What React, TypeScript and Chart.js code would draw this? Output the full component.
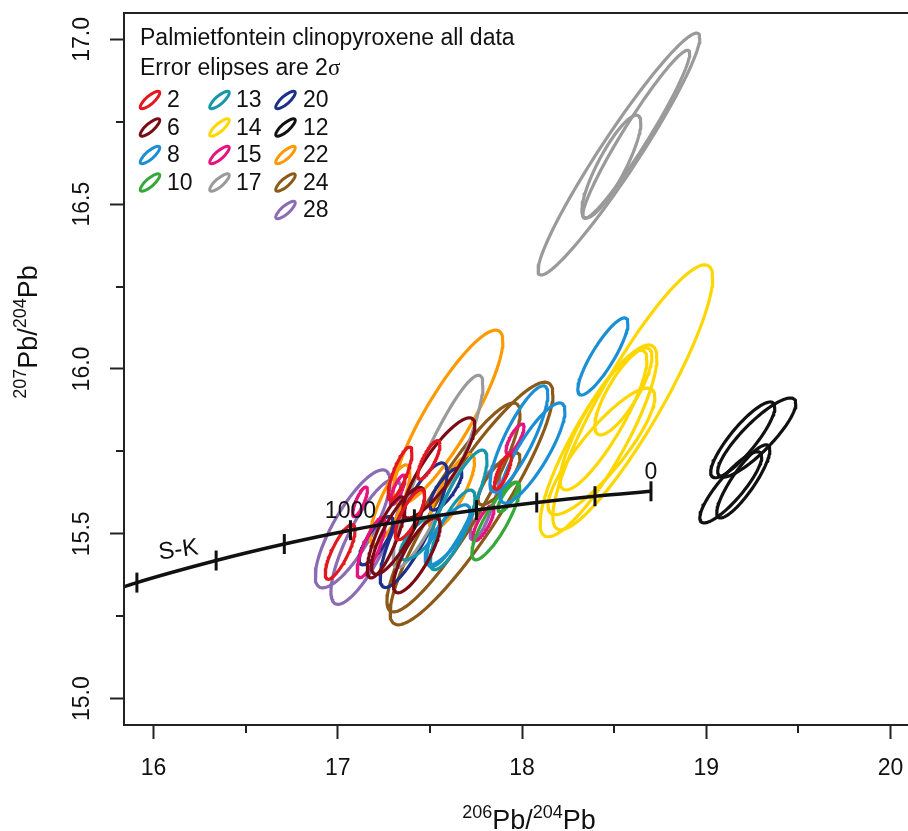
import { useEffect, useRef } from "react";
import { Chart, registerables } from "chart.js";

Chart.register(...registerables);

const FONT = "'Liberation Sans', Arial, Helvetica, sans-serif";
const INK = "#111111";

// Samples, their colours and the legend arrangement
const sampleNames = ["2", "6", "8", "10", "13", "14", "15", "17", "20", "12", "22", "24", "28"];
const sampleColors = [
  "#e2171f", "#7a0b14", "#1b8fd6", "#36a83a", "#1597a9", "#ffd700", "#e5147f",
  "#9a9a9a", "#1c2f8a", "#111111", "#ff9900", "#8b5a1a", "#8b6bb2",
];
const legendColumns = [
  ["2", "6", "8", "10"],
  ["13", "14", "15", "17"],
  ["20", "12", "22", "24", "28"],
];

// Individual analyses: 206Pb/204Pb, 207Pb/204Pb, their 2σ errors and error correlation
const spotSample = [
  "2", "2", "2", "2", "2",
  "6", "6", "6", "6",
  "8", "8", "8", "8",
  "10", "10",
  "13", "13", "13",
  "14", "14", "14", "14", "14",
  "15", "15", "15", "15", "15",
  "17", "17", "17", "17",
  "20", "20", "20",
  "12", "12", "12", "12",
  "22", "22", "22",
  "24", "24", "24",
  "28", "28", "28",
];
const pb206 = [
  17.338, 17.495, 17.013, 17.896, 17.392,
  17.549, 17.263, 17.429, 17.327,
  18.439, 17.983, 18.057, 17.596,
  17.858, 17.924,
  17.647, 17.623, 17.446,
  18.601, 18.415, 18.442, 18.431, 18.55,
  17.962, 17.791, 17.325, 17.181, 17.121,
  18.526, 18.62, 18.485, 17.544,
  17.412, 17.208, 17.587,
  19.274, 19.198, 19.133, 19.201,
  17.598, 17.284, 17.62,
  17.726, 17.628, 17.875,
  17.081, 17.153, 17.799,
];
const err206 = [
  0.065, 0.06, 0.081, 0.046, 0.08,
  0.195, 0.103, 0.127, 0.144,
  0.136, 0.157, 0.176, 0.122,
  0.13, 0.054,
  0.163, 0.122, 0.108,
  0.434, 0.317, 0.236, 0.29, 0.155,
  0.049, 0.057, 0.04, 0.076, 0.04,
  0.439, 0.29, 0.16, 0.244,
  0.182, 0.092, 0.087,
  0.212, 0.174, 0.168, 0.144,
  0.298, 0.108, 0.122,
  0.442, 0.361, 0.114,
  0.203, 0.19, 0.081,
];
const pb207 = [
  15.683, 15.724, 15.445, 15.688, 15.558,
  15.7, 15.489, 15.435, 15.509,
  16.038, 15.788, 15.745, 15.497,
  15.539, 15.611,
  15.577, 15.512, 15.489,
  15.914, 15.782, 15.845, 15.75, 15.932,
  15.788, 15.532, 15.633, 15.458, 15.597,
  16.652, 16.712, 16.614, 15.689,
  15.526, 15.479, 15.636,
  15.792, 15.785, 15.641, 15.659,
  15.853, 15.588, 15.627,
  15.592, 15.58, 15.667,
  15.515, 15.476, 15.595,
];
const err207 = [
  0.08, 0.059, 0.083, 0.053, 0.076,
  0.152, 0.123, 0.114, 0.132,
  0.117, 0.161, 0.152, 0.091,
  0.118, 0.044,
  0.177, 0.121, 0.068,
  0.402, 0.291, 0.212, 0.192, 0.132,
  0.045, 0.053, 0.045, 0.091, 0.045,
  0.367, 0.255, 0.156, 0.292,
  0.189, 0.073, 0.064,
  0.12, 0.115, 0.108, 0.111,
  0.265, 0.121, 0.114,
  0.368, 0.317, 0.079,
  0.179, 0.19, 0.114,
];
const errCorr = [
  0.8, 0.8, 0.8, 0.8, 0.78,
  0.85, 0.8, 0.8, 0.82,
  0.86, 0.84, 0.84, 0.78,
  0.84, 0.8,
  0.84, 0.8, 0.75,
  0.9, 0.86, 0.86, 0.86, 0.8,
  0.8, 0.8, 0.8, 0.8, 0.8,
  0.96, 0.96, 0.85, 0.9,
  0.84, 0.78, 0.78,
  0.86, 0.86, 0.86, 0.86,
  0.87, 0.8, 0.8,
  0.9, 0.9, 0.8,
  0.8, 0.8, 0.8,
];

// Stacey–Kramers lead growth curve, marked every 200 Ma
const skAge = [0, 200, 400, 600, 800, 1000, 1200, 1400, 1600, 1800];
const skPb206 = [18.7, 18.396, 18.08, 17.753, 17.416, 17.069, 16.71, 16.34, 15.91, 15.52];
const skPb207 = [15.629, 15.614, 15.595, 15.572, 15.544, 15.511, 15.469, 15.419, 15.352, 15.278];
const skTickAges = [0, 200, 400, 600, 800, 1000, 1200, 1400, 1600];
const skLabelAges = [0, 1000];

// Axis ranges and unlabelled minor ticks
const xRange = [15.84, 20.16];
const yRange = [14.92, 17.08];
const xMinorTicks = [16.5, 17.5, 18.5, 19.5];
const yMinorTicks = [15.25, 15.75, 16.25, 16.75];

function ellipseOutline(x: number, sx: number, y: number, sy: number, r: number, n = 96) {
  const pts: { x: number; y: number }[] = [];
  const s = Math.sqrt(1 - r * r);
  for (let i = 0; i <= n; i++) {
    const t = (2 * Math.PI * i) / n;
    pts.push({ x: x + sx * Math.cos(t), y: y + sy * (r * Math.cos(t) + s * Math.sin(t)) });
  }
  return pts;
}

function colorOf(name: string) {
  return sampleColors[sampleNames.indexOf(name)];
}

function drawRatio(ctx: CanvasRenderingContext2D, top: string, bottom: string, size: number) {
  const main = `${size}px ${FONT}`;
  const sup = `${Math.round(size * 0.66)}px ${FONT}`;
  const pieces: [string, boolean][] = [[top, true], ["Pb/", false], [bottom, true], ["Pb", false]];
  const widths = pieces.map(([t, s]) => {
    ctx.font = s ? sup : main;
    return ctx.measureText(t).width;
  });
  const total = widths.reduce((a, b) => a + b, 0);
  let x = -total / 2;
  pieces.forEach(([t, s], i) => {
    ctx.font = s ? sup : main;
    ctx.fillText(t, x, s ? -size * 0.4 : 0);
    x += widths[i];
  });
}

const decorations = {
  id: "decorations",
  afterDraw(chart: any) {
    const { ctx, chartArea: a } = chart;
    const xs = chart.scales.x;
    const ys = chart.scales.y;
    ctx.save();

    // frame
    ctx.strokeStyle = "#222";
    ctx.lineWidth = 2;
    ctx.strokeRect(a.left, a.top, a.right - a.left, a.bottom - a.top);

    // minor ticks
    ctx.lineWidth = 2;
    ctx.beginPath();
    xMinorTicks.forEach((v) => {
      const px = Math.round(xs.getPixelForValue(v));
      ctx.moveTo(px, a.bottom);
      ctx.lineTo(px, a.bottom + 8);
    });
    yMinorTicks.forEach((v) => {
      const py = Math.round(ys.getPixelForValue(v));
      ctx.moveTo(a.left, py);
      ctx.lineTo(a.left - 8, py);
    });
    ctx.stroke();

    ctx.fillStyle = INK;
    ctx.textBaseline = "alphabetic";

    // growth curve labels
    ctx.font = `23px ${FONT}`;
    ctx.textAlign = "center";
    skLabelAges.forEach((age) => {
      const i = skAge.indexOf(age);
      const px = xs.getPixelForValue(skPb206[i]);
      const py = ys.getPixelForValue(skPb207[i]);
      ctx.fillText(String(age), px, py - 12);
    });
    ctx.save();
    ctx.font = `24px ${FONT}`;
    ctx.translate(xs.getPixelForValue(16.14), ys.getPixelForValue(15.43));
    ctx.rotate(-0.13);
    ctx.fillText("S-K", 0, 0);
    ctx.restore();

    // legend
    ctx.textAlign = "left";
    ctx.font = `23px ${FONT}`;
    ctx.fillText("Palmietfontein clinopyroxene all data", 140, 45);
    const errText = "Error elipses are 2";
    ctx.fillText(errText, 140, 75);
    const w = ctx.measureText(errText).width;
    ctx.font = `23px 'Liberation Serif', 'DejaVu Serif', serif`;
    ctx.fillText("σ", 140 + w, 75);

    ctx.font = `23px ${FONT}`;
    const iconX = [150, 219.5, 285.5];
    const labelX = [167, 236, 303];
    legendColumns.forEach((col, c) => {
      col.forEach((name, r) => {
        const base = 107 + 27.5 * r;
        ctx.strokeStyle = colorOf(name);
        ctx.lineWidth = 3;
        ctx.beginPath();
        ctx.ellipse(iconX[c], base - 7, 12.5, 4, -0.72, 0, 2 * Math.PI);
        ctx.stroke();
        ctx.fillStyle = INK;
        ctx.fillText(name, labelX[c], base);
      });
    });

    // axis titles
    ctx.fillStyle = INK;
    ctx.save();
    ctx.translate(529, 829);
    drawRatio(ctx, "206", "204", 27);
    ctx.restore();
    ctx.save();
    ctx.translate(37, 332);
    ctx.rotate(-Math.PI / 2);
    drawRatio(ctx, "207", "204", 27);
    ctx.restore();

    ctx.restore();
  },
};

export default function App() {
  const canvasRef = useRef<HTMLCanvasElement | null>(null);

  useEffect(() => {
    const canvas = canvasRef.current;
    if (!canvas) return;

    const skCurve = skAge.map((_, i) => ({ x: skPb206[i], y: skPb207[i] }));
    const skTicks = skTickAges.map((age) => {
      const i = skAge.indexOf(age);
      return { x: skPb206[i], y: skPb207[i] };
    });

    const ellipseSets = spotSample.map((name, i) => ({
      label: name,
      data: ellipseOutline(pb206[i], err206[i], pb207[i], err207[i], errCorr[i]),
      showLine: true,
      borderColor: colorOf(name),
      backgroundColor: "transparent",
      borderWidth: 3.2,
      borderJoinStyle: "round" as const,
      pointRadius: 0,
      fill: false,
      tension: 0,
    }));

    const chart = new Chart(canvas, {
      type: "scatter",
      data: {
        datasets: [
          {
            label: "S-K ticks",
            data: skTicks,
            showLine: false,
            pointStyle: "line",
            rotation: 90,
            pointRadius: 10,
            pointBorderWidth: 3,
            borderColor: INK,
            pointBorderColor: INK,
          } as any,
          {
            label: "S-K",
            data: skCurve,
            showLine: true,
            borderColor: INK,
            borderWidth: 3.5,
            pointRadius: 0,
            tension: 0.35,
            fill: false,
          },
          ...ellipseSets,
        ],
      },
      options: {
        responsive: false,
        animation: false,
        events: [],
        layout: { padding: { left: 0, right: 20, top: 13, bottom: 0 } },
        plugins: {
          legend: { display: false },
          tooltip: { enabled: false },
        },
        scales: {
          x: {
            type: "linear",
            position: "bottom",
            min: xRange[0],
            max: xRange[1],
            afterFit: (s: any) => {
              s.height = 106;
              s.paddingLeft = 0;
              s.paddingRight = 0;
            },
            grid: {
              drawOnChartArea: false,
              drawTicks: true,
              tickLength: 14,
              tickWidth: 2,
              tickColor: "#222",
            },
            border: { display: true, color: "#222", width: 2 },
            ticks: {
              stepSize: 1,
              includeBounds: false,
              autoSkip: false,
              maxRotation: 0,
              minRotation: 0,
              padding: 16,
              color: INK,
              font: { family: FONT, size: 23 },
              callback: (v: any) => String(v),
            },
          },
          y: {
            type: "linear",
            position: "left",
            min: yRange[0],
            max: yRange[1],
            afterFit: (s: any) => {
              s.width = 124;
              s.paddingTop = 0;
              s.paddingBottom = 0;
            },
            grid: {
              drawOnChartArea: false,
              drawTicks: true,
              tickLength: 14,
              tickWidth: 2,
              tickColor: "#222",
            },
            border: { display: true, color: "#222", width: 2 },
            ticks: {
              stepSize: 0.5,
              includeBounds: false,
              autoSkip: false,
              minRotation: 90,
              maxRotation: 90,
              crossAlign: "center",
              padding: 5,
              color: INK,
              font: { family: FONT, size: 23 },
              callback: (v: any) => Number(v).toFixed(1),
            },
          },
        },
      },
      plugins: [decorations],
    });

    return () => chart.destroy();
  }, []);

  return (
    <div
      style={{
        position: "fixed",
        left: 0,
        top: 0,
        width: 908,
        height: 831,
        overflow: "hidden",
        background: "#fff",
      }}
    >
      <canvas ref={canvasRef} width={940} height={831} style={{ display: "block" }} />
    </div>
  );
}
